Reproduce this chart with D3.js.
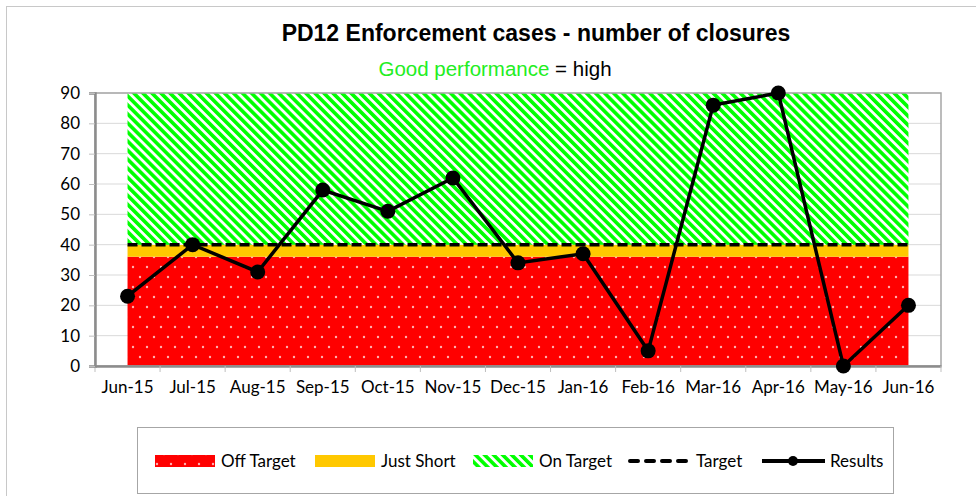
<!DOCTYPE html>
<html>
<head>
<meta charset="utf-8">
<script src="https://cdn.jsdelivr.net/npm/d3@7"></script>
<style>
  body { margin: 0; background: #fff; }
  .tick text { font-family: "Lato", "Open Sans", sans-serif; font-size: 17px; fill: #000; }
</style>
</head>
<body>
<script>
// data
var months = ["Jun-15", "Jul-15", "Aug-15", "Sep-15", "Oct-15", "Nov-15", "Dec-15",
  "Jan-16", "Feb-16", "Mar-16", "Apr-16", "May-16", "Jun-16"];
var results = [23, 40, 31, 58, 51, 62, 34, 37, 5, 86, 90, 0, 20];
var targetValue = 40;
var offTargetTop = 36;   // red band 0..36
var justShortTop = 40;   // yellow band 36..40
var onTargetTop = 90;    // green band 40..90
var yTicks = [0, 10, 20, 30, 40, 50, 60, 70, 80, 90];

var svgWidth = 976, svgHeight = 496;
var margin = { top: 93, right: 35, bottom: 130, left: 95 };
var width = svgWidth - margin.left - margin.right;
var height = svgHeight - margin.top - margin.bottom;

var svg = d3.select("body").append("svg")
  .attr("width", svgWidth)
  .attr("height", svgHeight);

var defs = svg.append("defs");

// red with white dots
var dots = defs.append("pattern")
  .attr("id", "dots")
  .attr("patternUnits", "userSpaceOnUse")
  .attr("width", 14).attr("height", 20);
dots.append("rect").attr("width", 14).attr("height", 20).attr("fill", "#ff0000");
dots.append("circle").attr("cx", 3).attr("cy", 4).attr("r", 1.2).attr("fill", "#ffb0b0");
dots.append("circle").attr("cx", 10).attr("cy", 14).attr("r", 1.2).attr("fill", "#ffb0b0");

// green diagonal stripes
var stripes = defs.append("pattern")
  .attr("id", "stripes")
  .attr("patternUnits", "userSpaceOnUse")
  .attr("width", 6.4).attr("height", 6.4)
  .attr("patternTransform", "rotate(-45)");
stripes.append("rect").attr("width", 6.4).attr("height", 6.4).attr("fill", "#ffffff");
stripes.append("rect").attr("width", 3.6).attr("height", 6.4).attr("fill", "#00ff00");

// outer chart border
svg.append("rect")
  .attr("x", 6.5).attr("y", 6.5)
  .attr("width", 975).attr("height", 495)
  .attr("fill", "none")
  .attr("stroke", "#c8c8c8");

// titles
svg.append("text")
  .attr("x", 536).attr("y", 41)
  .attr("text-anchor", "middle")
  .style("font-family", "Liberation Sans, Arial, sans-serif")
  .style("font-size", "23px")
  .style("font-weight", "bold")
  .text("PD12 Enforcement cases - number of closures");

var sub = svg.append("text")
  .attr("x", 495).attr("y", 76)
  .attr("text-anchor", "middle")
  .style("font-family", "Liberation Sans, Arial, sans-serif")
  .style("font-size", "20.5px");
sub.append("tspan").attr("fill", "#22ee22").text("Good performance");
sub.append("tspan").attr("fill", "#000").text(" = high");

var chartGroup = svg.append("g")
  .attr("transform", `translate(${margin.left}, ${margin.top})`);

var xScale = d3.scaleBand().domain(months).range([0, width]);
var yScale = d3.scaleLinear().domain([0, 90]).range([height, 0]);
var xMid = d => xScale(d) + xScale.bandwidth() / 2;

// gridlines
chartGroup.append("g")
  .selectAll("line")
  .data(yTicks.slice(1))
  .enter()
  .append("line")
  .attr("x1", 0).attr("x2", width)
  .attr("y1", d => yScale(d)).attr("y2", d => yScale(d))
  .attr("stroke", "#d9d9d9");

// bands, drawn from first to last category centre
function band(lo, hi, fill) {
  var area = d3.area()
    .x(d => xMid(d))
    .y0(yScale(lo))
    .y1(yScale(hi));
  chartGroup.append("path")
    .datum(months)
    .attr("d", area)
    .attr("fill", fill);
}
band(0, offTargetTop, "url(#dots)");
band(offTargetTop, justShortTop, "#ffc800");
band(justShortTop, onTargetTop, "url(#stripes)");

// plot frame
chartGroup.append("rect")
  .attr("width", width).attr("height", height)
  .attr("fill", "none")
  .attr("stroke", "#a6a6a6")
  .attr("stroke-width", 1.5);

// axes
var xAxis = d3.axisBottom(xScale).tickSize(0).tickPadding(15);
var yAxis = d3.axisLeft(yScale).tickValues(yTicks).tickSize(6).tickPadding(9);

var gx = chartGroup.append("g")
  .attr("transform", `translate(0, ${height})`)
  .call(xAxis);
gx.select(".domain").attr("stroke", "#8c8c8c").attr("stroke-width", 2.5);

// x tick marks sit on the category boundaries
gx.selectAll(".bound")
  .data(months.concat([null]))
  .enter()
  .append("line")
  .attr("x1", (d, i) => i * xScale.bandwidth())
  .attr("x2", (d, i) => i * xScale.bandwidth())
  .attr("y1", 0).attr("y2", 6)
  .attr("stroke", "#bfbfbf");

var gy = chartGroup.append("g").call(yAxis);
gy.select(".domain").attr("stroke", "#8c8c8c").attr("stroke-width", 2.5);
gy.selectAll(".tick line").attr("stroke", "#bfbfbf");

// target line
chartGroup.append("path")
  .datum(months)
  .attr("d", d3.line().x(d => xMid(d)).y(yScale(targetValue)))
  .attr("fill", "none")
  .attr("stroke", "#000")
  .attr("stroke-width", 3.5)
  .attr("stroke-dasharray", "10,4");

// results
chartGroup.append("path")
  .datum(results)
  .attr("d", d3.line().x((d, i) => xMid(months[i])).y(d => yScale(d)))
  .attr("fill", "none")
  .attr("stroke", "#000")
  .attr("stroke-width", 3.5);

chartGroup.selectAll(".pt")
  .data(results)
  .enter()
  .append("circle")
  .attr("cx", (d, i) => xMid(months[i]))
  .attr("cy", d => yScale(d))
  .attr("r", 7.5)
  .attr("fill", "#000");

// legend
var legend = svg.append("g");
legend.append("rect")
  .attr("x", 137.5).attr("y", 427.5)
  .attr("width", 756).attr("height", 66)
  .attr("fill", "#fff")
  .attr("stroke", "#a6a6a6");

var legendItems = [
  { name: "Off Target", kind: "fill", fill: "url(#dots)", x: 155 },
  { name: "Just Short", kind: "fill", fill: "#ffc800", x: 315 },
  { name: "On Target", kind: "fill", fill: "url(#stripes)", x: 473 },
  { name: "Target", kind: "dash", x: 628 },
  { name: "Results", kind: "line", x: 762 }
];
var ly = 461;
legendItems.forEach(function(it) {
  var g = legend.append("g");
  if (it.kind === "fill") {
    g.append("rect").attr("x", it.x).attr("y", ly - 6).attr("width", 60).attr("height", 12).attr("fill", it.fill);
  } else if (it.kind === "dash") {
    g.append("line").attr("x1", it.x + 2).attr("x2", it.x + 63).attr("y1", ly).attr("y2", ly)
      .attr("stroke", "#000").attr("stroke-width", 4).attr("stroke-linecap", "round")
      .attr("stroke-dasharray", "8,8");
  } else {
    g.append("line").attr("x1", it.x).attr("x2", it.x + 63).attr("y1", ly).attr("y2", ly)
      .attr("stroke", "#000").attr("stroke-width", 4);
    g.append("circle").attr("cx", it.x + 31).attr("cy", ly).attr("r", 5).attr("fill", "#000");
  }
  g.append("text")
    .attr("x", it.x + (it.kind === "fill" ? 66 : 68))
    .attr("y", ly + 6)
    .style("font-family", "Lato, 'Open Sans', sans-serif")
    .style("font-size", "17px")
    .text(it.name);
});
</script>
</body>
</html>
